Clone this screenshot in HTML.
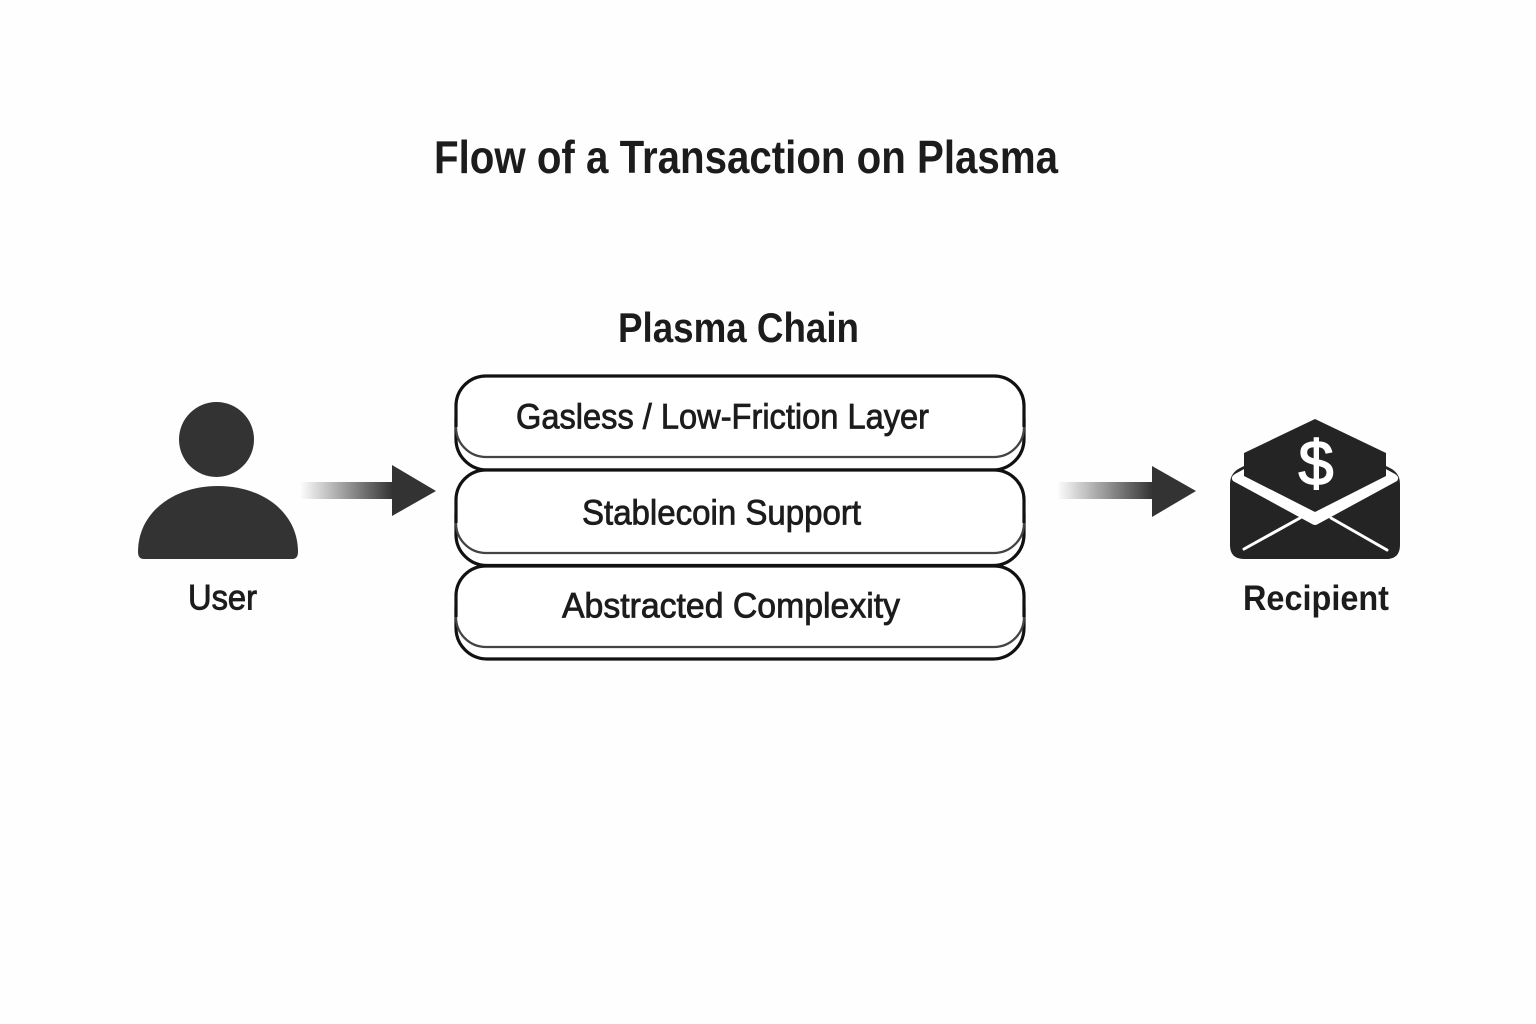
<!DOCTYPE html>
<html>
<head>
<meta charset="utf-8">
<title>Flow of a Transaction on Plasma</title>
<style>
html,body{margin:0;padding:0;background:#fefefe;width:1536px;height:1024px;overflow:hidden}
svg{display:block}
text{font-family:"Liberation Sans",sans-serif;fill:#1c1c1c}
</style>
</head>
<body>
<svg width="1536" height="1024" viewBox="0 0 1536 1024" xmlns="http://www.w3.org/2000/svg">
<defs>
<linearGradient id="g1" x1="0" x2="1" y1="0" y2="0">
<stop offset="0" stop-color="#333" stop-opacity="0"/>
<stop offset="1" stop-color="#333" stop-opacity="1"/>
</linearGradient>
</defs>
<rect width="1536" height="1024" fill="#fefefe"/>

<text x="434" y="173" font-size="46" font-weight="700" textLength="624" lengthAdjust="spacingAndGlyphs">Flow of a Transaction on Plasma</text>
<text x="618" y="342" font-size="42" font-weight="700" textLength="241" lengthAdjust="spacingAndGlyphs">Plasma Chain</text>

<!-- User -->
<circle cx="216.500" cy="439.500" r="37.500" fill="#333"/>
<path d="M138 552 C138 512 174 486 218 486 C262 486 298 512 298 552 Q298 559 292 559 L144 559 Q138 559 138 552 Z" fill="#333"/>
<text x="188" y="609.500" font-size="35" font-weight="400" stroke="#1c1c1c" stroke-width=".9" textLength="69" lengthAdjust="spacingAndGlyphs">User</text>

<!-- Arrow 1 -->
<rect x="300" y="482" width="93" height="17" fill="url(#g1)"/>
<polygon points="392,465 436,491 392,516" fill="#333"/>

<!-- Stack -->
<g fill="#fff" stroke="#111" stroke-width="3.200">
<rect x="456" y="388" width="568" height="82" rx="31"/>
<path d="M456 406 A30 30 0 0 1 486 376 H994 A30 30 0 0 1 1024 406 V427 A30 30 0 0 1 994 457 H486 A30 30 0 0 1 456 427 Z" stroke="#444" stroke-width="2.300"/>
<path d="M456 427 V406 A30 30 0 0 1 486 376 H994 A30 30 0 0 1 1024 406 V427" fill="none"/>

<rect x="456" y="483.500" width="568" height="82" rx="31"/>
<path d="M456 500 A30 30 0 0 1 486 470 H994 A30 30 0 0 1 1024 500 V523 A30 30 0 0 1 994 553 H486 A30 30 0 0 1 456 523 Z" stroke="#444" stroke-width="2.300"/>
<path d="M456 523 V500 A30 30 0 0 1 486 470 H994 A30 30 0 0 1 1024 500 V523" fill="none"/>

<rect x="456" y="577" width="568" height="82" rx="31"/>
<path d="M456 596 A30 30 0 0 1 486 566 H994 A30 30 0 0 1 1024 596 V617 A30 30 0 0 1 994 647 H486 A30 30 0 0 1 456 617 Z" stroke="#444" stroke-width="2.300"/>
<path d="M456 617 V596 A30 30 0 0 1 486 566 H994 A30 30 0 0 1 1024 596 V617" fill="none"/>
</g>
<text x="516" y="428.500" font-size="35" stroke="#1c1c1c" stroke-width=".8" textLength="413" lengthAdjust="spacingAndGlyphs">Gasless / Low-Friction Layer</text>
<text x="582" y="524.500" font-size="35" stroke="#1c1c1c" stroke-width=".8" textLength="279" lengthAdjust="spacingAndGlyphs">Stablecoin Support</text>
<text x="562" y="617.500" font-size="35" stroke="#1c1c1c" stroke-width=".8" textLength="338" lengthAdjust="spacingAndGlyphs">Abstracted Complexity</text>

<!-- Arrow 2 -->
<rect x="1057" y="482" width="96" height="17" fill="url(#g1)"/>
<polygon points="1152,466 1196,491 1152,517" fill="#333"/>

<!-- Envelope -->
<path d="M1230 484 Q1230 473 1240 468 L1250 463 H1380 L1390 468 Q1400 473 1400 484 V545 Q1400 559 1386 559 H1244 Q1230 559 1230 545 Z" fill="#242424"/>
<path d="M1233 481 Q1230 477 1235 474 L1246 468 H1384 L1395 474 Q1400 477 1397 481 L1318 524 Q1315 526 1312 524 Z" fill="#fff"/>
<path d="M1244 549 L1300 518 M1387 550 L1331 518" stroke="#fff" stroke-width="3" stroke-linecap="round" fill="none"/>
<polygon points="1315,419 1386,453 1386,476 1315,512 1244,476 1244,453" fill="#242424"/>
<text x="1316" y="485" font-size="63" font-weight="400" text-anchor="middle" stroke="#fff" stroke-width="1.500" style="fill:#fff">$</text>
<text x="1243" y="610" font-size="35" font-weight="700" textLength="146" lengthAdjust="spacingAndGlyphs">Recipient</text>
</svg>
</body>
</html>
